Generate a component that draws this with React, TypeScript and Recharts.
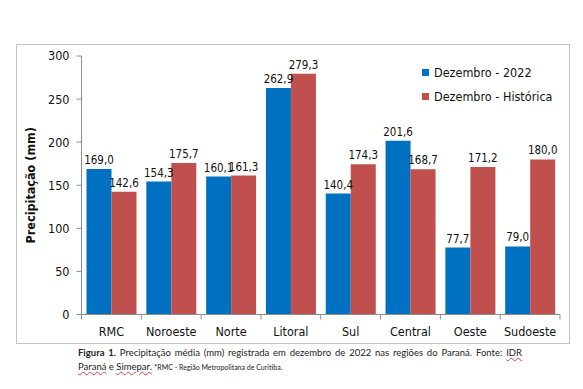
import React from 'react';
import { BarChart, Bar, XAxis, YAxis, LabelList } from 'recharts';

const categories = ['RMC', 'Noroeste', 'Norte', 'Litoral', 'Sul', 'Central', 'Oeste', 'Sudoeste'];
const dez2022 = [169.0, 154.3, 160.1, 262.9, 140.4, 201.6, 77.7, 79.0];
const dezHistorica = [142.6, 175.7, 161.3, 279.3, 174.3, 168.7, 171.2, 180.0];
const yTicks = [0, 50, 100, 150, 200, 250, 300];
const seriesNames = ['Dezembro - 2022', 'Dezembro - Histórica'];

const BLUE = '#0070C0';
const RED = '#C0504D';
const AXIS = '#8c8c8c';
const FONT = '"DejaVu Sans Condensed", "Noto Sans", sans-serif';

const CHART_W = 553;
const CHART_H = 299;
const MARGIN = { top: 12, right: 9, left: 5.5, bottom: 0.5 };
const Y_AXIS_W = 60;
const PLOT_W = CHART_W - MARGIN.left - MARGIN.right - Y_AXIS_W;

const data = categories.map((name, i) => ({
    name,
    atual: dez2022[i],
    historica: dezHistorica[i],
}));

const fmt = (v: any) => Number(v).toFixed(1).replace('.', ',');

const CategoryTick = (props: any) => {
    const { x, y, payload, index } = props;
    const bw = PLOT_W / categories.length;
    return (
        <g>
            <line x1={x - bw / 2} x2={x - bw / 2} y1={y} y2={y + 5} stroke={AXIS} />
            {index === categories.length - 1 && (
                <line x1={x + bw / 2} x2={x + bw / 2} y1={y} y2={y + 5} stroke={AXIS} />
            )}
            <text x={x} y={y + 17} textAnchor="middle" dominantBaseline="central" fill="#111" fontSize={12.5} fontFamily={FONT}>
                {payload.value}
            </text>
        </g>
    );
};

const App = () => {
    return (
        <div style={{ position: 'absolute', left: 0, top: 0, width: 583, height: 389, background: '#fff' }}>
            <div
                style={{
                    position: 'absolute',
                    left: 16,
                    top: 44,
                    width: CHART_W - 1,
                    height: CHART_H - 1,
                    border: '1px solid #c4c4c4',
                }}
            />
            <div style={{ position: 'absolute', left: 16, top: 44 }}>
                <BarChart width={CHART_W} height={CHART_H} data={data} margin={MARGIN} barCategoryGap={5} barGap={0}>
                    <XAxis
                        dataKey="name"
                        height={28}
                        stroke={AXIS}
                        tickLine={false}
                        tickSize={0}
                        tickMargin={0}
                        interval={0}
                        tick={<CategoryTick />}
                    />
                    <YAxis
                        width={Y_AXIS_W}
                        domain={[0, 300]}
                        ticks={yTicks}
                        stroke={AXIS}
                        tickSize={5}
                        tickMargin={7}
                        tick={{ fill: '#111', fontSize: 12.5, fontFamily: FONT }}
                        label={{
                            content: (p: any) => {
                                const vb = p.viewBox || {};
                                const cx = (vb.x ?? MARGIN.left) + 8.5;
                                const cy = (vb.y ?? MARGIN.top) + (vb.height ?? 258) / 2;
                                return (
                                    <text
                                        x={cx}
                                        y={cy}
                                        transform={`rotate(-90 ${cx} ${cy})`}
                                        textAnchor="middle"
                                        dominantBaseline="central"
                                        fontWeight="bold"
                                        fontSize={12.5}
                                        fontFamily={FONT}
                                        fill="#111"
                                    >
                                        Precipitação (mm)
                                    </text>
                                );
                            },
                        }}
                    />
                    <Bar dataKey="atual" name={seriesNames[0]} fill={BLUE} isAnimationActive={false}>
                        <LabelList dataKey="atual" position="top" formatter={fmt} fill="#111" fontSize={11.5} fontFamily={FONT} />
                    </Bar>
                    <Bar dataKey="historica" name={seriesNames[1]} fill={RED} isAnimationActive={false}>
                        <LabelList dataKey="historica" position="top" formatter={fmt} fill="#111" fontSize={11.5} fontFamily={FONT} />
                    </Bar>
                </BarChart>
            </div>
            <div style={{ position: 'absolute', left: 422, top: 63, fontFamily: FONT, fontSize: 12.5, color: '#111' }}>
                {seriesNames.map((n, i) => (
                    <div key={n} style={{ display: 'flex', alignItems: 'center', height: 18, marginBottom: i === 0 ? 6 : 0 }}>
                        <span style={{ width: 7, height: 7, background: i === 0 ? BLUE : RED, marginRight: 5 }} />
                        <span>{n}</span>
                    </div>
                ))}
            </div>
            <div style={{ position: 'absolute', left: 78, top: 346, width: 444, fontFamily: 'Lato, "Liberation Sans", sans-serif', fontSize: 9.5, color: '#222', lineHeight: '14px' }}>
                <div style={{ textAlign: 'justify', textAlignLast: 'justify', whiteSpace: 'nowrap' }}>
                    <b>Figura 1.</b> Precipitação média (mm) registrada em dezembro de 2022 nas regiões do Paraná. Fonte:{' '}
                    <span style={{ textDecoration: 'underline wavy #d04040' }}>IDR</span>
                </div>
                <div>
                    <span style={{ textDecoration: 'underline wavy #d04040' }}>Paraná</span> e{' '}
                    <span style={{ textDecoration: 'underline wavy #d04040' }}>Simepar.</span>{' '}
                    <span style={{ fontSize: 7 }}>*RMC - Região Metropolitana de Curitiba.</span>
                </div>
            </div>
        </div>
    );
};

export default App;
